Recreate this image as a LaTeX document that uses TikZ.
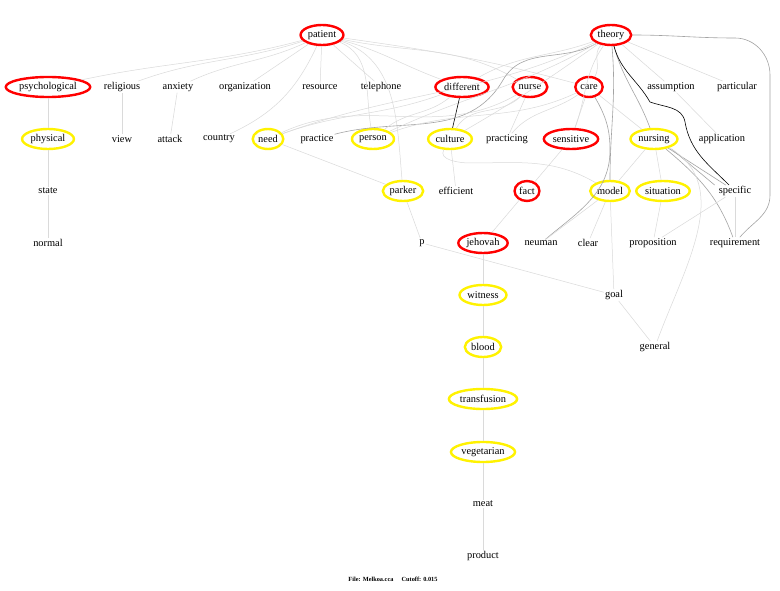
\documentclass[tikz,border=0pt]{standalone}
\usepackage{fontspec}
\setmainfont{Liberation Serif}
\usetikzlibrary{shapes.geometric}
\definecolor{lg}{HTML}{DADADA}
\definecolor{mg}{HTML}{A4A4A4}
\begin{document}
\begin{tikzpicture}[x=1pt,y=-1pt,
  w/.style={font=\fontsize{10.4}{12}\selectfont, inner sep=1pt},
  rn/.style={w, ellipse, draw=red, line width=2.4pt, inner xsep=1pt, inner ysep=0.5pt, minimum height=20pt},
  yn/.style={w, ellipse, draw=yellow, line width=2.4pt, inner xsep=1pt, inner ysep=0.5pt, minimum height=20pt},
  le/.style={draw=lg, line width=0.5pt},
  me/.style={draw=mg, line width=0.6pt},
  be/.style={draw=black, line width=0.6pt}]
\useasboundingbox (0,0) rectangle (780,591);
\fill[white] (0,0) rectangle (780,591);
% row 1
\node[rn] (patient) at (322,35) {patient};
\node[rn] (theory) at (611,35) {theory};
% row 2
\node[rn] (psychological) at (48,87) {psychological};
\node[w] (religious) at (122,87) {religious};
\node[w] (anxiety) at (178,87) {anxiety};
\node[w] (organization) at (245,87) {organization};
\node[w] (resource) at (320,87) {resource};
\node[w] (telephone) at (381,87) {telephone};
\node[rn] (different) at (462,87) {different};
\node[rn] (nurse) at (530,87) {nurse};
\node[rn] (care) at (589,87) {care};
\node[w] (assumption) at (671,87) {assumption};
\node[w] (particular) at (737,87) {particular};
% row 3
\node[yn] (physical) at (48,139) {physical};
\node[w] (view) at (122,139) {view};
\node[w] (attack) at (170,139) {attack};
\node[w] (country) at (219,139) {country};
\node[yn] (need) at (268,139) {need};
\node[w] (practice) at (317,139) {practice};
\node[yn] (person) at (373,139) {person};
\node[yn] (culture) at (450,139) {culture};
\node[w] (practicing) at (507,139) {practicing};
\node[rn] (sensitive) at (571,139) {sensitive};
\node[yn] (nursing) at (654,139) {nursing};
\node[w] (application) at (722,139) {application};
% row 4
\node[w] (state) at (48,191) {state};
\node[yn] (parker) at (403,191) {parker};
\node[w] (efficient) at (456,191) {efficient};
\node[rn] (fact) at (527,191) {fact};
\node[yn] (model) at (610,191) {model};
\node[yn] (situation) at (663,191) {situation};
\node[w] (specific) at (735,191) {specific};
% row 5
\node[w] (normal) at (48,243) {normal};
\node[w] (p) at (422,243) {p};
\node[rn] (jehovah) at (483,243) {jehovah};
\node[w] (neuman) at (541,243) {neuman};
\node[w] (clear) at (588,243) {clear};
\node[w] (proposition) at (653,243) {proposition};
\node[w] (requirement) at (735,243) {requirement};
% lower
\node[yn] (witness) at (483,295) {witness};
\node[w] (goal) at (614,295) {goal};
\node[yn] (blood) at (483,347) {blood};
\node[w] (general) at (655,347) {general};
\node[yn] (transfusion) at (483,399) {transfusion};
\node[yn] (vegetarian) at (483,452) {vegetarian};
\node[w] (meat) at (483,504) {meat};
\node[w] (product) at (483,556) {product};
\node[font=\fontsize{6.3}{7}\selectfont\bfseries] (footer) at (393,579) {File: Melkoa.cca\hspace{1.3em}Cutoff: 0.015};
% edges from patient
\draw[le] (patient) to[out=195,in=12] (psychological);
\draw[le] (patient) to[out=198,in=20] (religious);
\draw[le] (patient) to[out=205,in=25] (anxiety);
\draw[le] (patient) -- (organization);
\draw[le] (patient) -- (resource);
\draw[le] (patient) -- (telephone);
\draw[le] (patient) to[out=245,in=25] (country);
\draw[le] (patient) to[out=-15,in=160] (different);
\draw[le] (patient) to[out=-12,in=150] (nurse);
\draw[le] (patient) to[out=-18,in=95] (parker);
\draw[le] (patient) to[out=-22,in=100] (person);
\draw[le] (patient) to[out=-8,in=165] (care);
% edges from theory
\draw[le] (theory) to[out=200,in=30] (different);
\draw[le] (theory) to[out=205,in=20] (need);
\draw[me] (theory) to[out=210,in=60] (503,80) to[out=240,in=15] (practice);
\draw[le] (theory) to[out=210,in=25] (person);
\draw[le] (theory) to[out=215,in=30] (culture);
\draw[le] (theory) to[out=225,in=60] (care);
\draw[le] (theory) to[out=235,in=70] (sensitive);
\draw[le] (theory) -- (assumption);
\draw[le] (theory) -- (particular);
\draw[me] (theory) to[out=275,in=90] (model);
\draw[me] (theory) to[out=285,in=110] (nursing);
\draw[be] (theory) to[out=285,in=120] (650,102) to[out=-20,in=100] (685,122) to[out=-80,in=135] (specific);
\draw[me] (theory) to[out=0,in=180] (735,38) to[out=0,in=90] (770,75) -- (770,195) to[out=270,in=50] (requirement);
% other edges
\draw[be] (different) -- (culture);
\draw[le] (different) to[out=200,in=20] (need);
\draw[le] (different) to[out=220,in=40] (person);
\draw[le] (nurse) -- (practicing);
\draw[le] (nurse) to[out=210,in=25] (need);
\draw[le] (nurse) to[out=225,in=60] (culture);
\draw[le] (care) -- (sensitive);
\draw[le] (care) -- (nursing);
\draw[le] (care) to[out=205,in=20] (person);
\draw[le] (care) to[out=215,in=50] (practicing);
\draw[me] (care) to[out=-60,in=90] (610,150) to[out=270,in=40] (neuman);
\draw[le] (assumption) -- (application);
\draw[le] (psychological) -- (physical);
\draw[le] (physical) -- (state);
\draw[le] (state) -- (normal);
\draw[le] (religious) -- (view);
\draw[le] (anxiety) -- (attack);
\draw[le] (need) -- (parker);
\draw[le] (culture) -- (efficient);
\draw[le] (culture) to[out=240,in=180] (470,163) to[out=0,in=150] (model);
\draw[le] (parker) -- (p);
\draw[le] (p) -- (goal);
\draw[le] (sensitive) -- (fact);
\draw[le] (fact) -- (jehovah);
\draw[le] (jehovah) -- (witness);
\draw[le] (witness) -- (blood);
\draw[le] (blood) -- (transfusion);
\draw[le] (transfusion) -- (vegetarian);
\draw[le] (vegetarian) -- (meat);
\draw[le] (meat) -- (product);
\draw[le] (nursing) -- (model);
\draw[le] (nursing) -- (situation);
\draw[me] (nursing) -- (specific);
\draw[me] ([yshift=-2pt]nursing.south east) -- ([xshift=-3pt]specific.north west);
\draw[me] (nursing) to[out=-40,in=110] (requirement);
\draw[le] (nursing) to[out=-30,in=70] (general);
\draw[le] (model) -- (clear);
\draw[le] (model) -- (neuman);
\draw[le] (model) -- (goal);
\draw[le] (situation) -- (proposition);
\draw[le] (specific) -- (proposition);
\draw[le] (specific) -- (requirement);
\draw[le] (goal) -- (general);
\end{tikzpicture}
\end{document}
